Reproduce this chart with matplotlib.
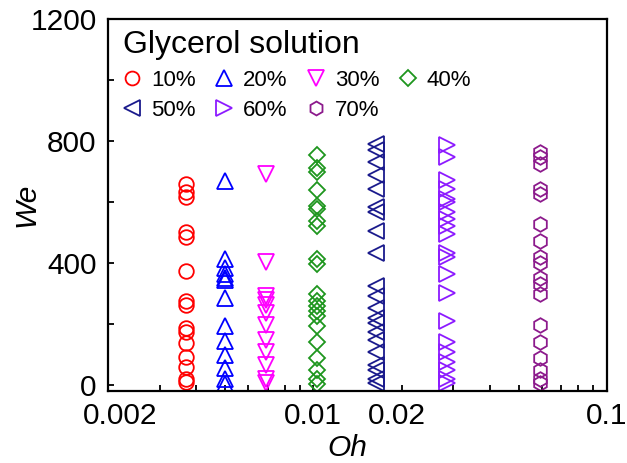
import numpy as np
from matplotlib import pyplot as plt
from matplotlib import transforms
from matplotlib.ticker import FixedLocator, NullFormatter

plt.rcParams['font.family'] = ['Liberation Sans', 'DejaVu Sans']

# Oh value of each glycerol solution
labels = ['10%', '20%', '30%', '40%', '50%', '60%', '70%']
oh = [0.0037, 0.0050, 0.0069, 0.0103, 0.0163, 0.0286, 0.0592]

we_10 = [660, 632, 616, 500, 484, 374, 274, 263, 186, 175, 137, 93, 60, 21, 10]
we_20 = [669, 414, 385, 363, 352, 343, 285, 194, 144, 98, 54, 19, 4]
we_30 = [691, 404, 291, 280, 263, 236, 197, 148, 109, 65, 21, 5]
we_40 = [754, 710, 699, 638, 588, 577, 539, 522, 412, 396, 297, 274, 258,
         241, 225, 192, 142, 87, 49, 21, 4]
we_50 = [790, 770, 732, 688, 644, 583, 566, 506, 434, 324, 291, 252, 219,
         203, 175, 148, 109, 65, 49, 21, 5]
we_60 = [787, 748, 671, 644, 610, 599, 566, 544, 522, 495, 434, 418, 363,
         302, 208, 142, 109, 76, 49, 21, 5]
we_70 = [765, 748, 726, 644, 627, 528, 473, 418, 401, 352, 330, 297, 197,
         142, 87, 49, 21, 5]
we_all = [we_10, we_20, we_30, we_40, we_50, we_60, we_70]

colors = ['#FF0000', '#0000FF', '#FF00FF', '#1E961E', '#1A1A8C', '#8C1AFF', '#8C1A8C']
markers = ['o', '^', 'v', 'D', '<', '>', 'h']
sizes = [10.5, 12, 12, 8.5, 12, 12, 10.5]

fig = plt.figure(figsize=(6.27, 4.63), dpi=100)
ax = fig.add_axes([0.172, 0.1555, 0.796, 0.8035])

handles = []
for i in range(len(labels)):
    h, = ax.plot([oh[i]] * len(we_all[i]), we_all[i], linestyle='none',
                 marker=markers[i], ms=sizes[i], mfc='none', mec=colors[i],
                 mew=1.3, label=labels[i])
    handles.append(h)

ax.set_xscale('log')
ax.set_xlim(0.002, 0.1)
ax.set_ylim(-20, 1200)

# x ticks: labelled decades plus all minor log ticks
xmajor = [0.002, 0.01, 0.02, 0.1]
ax.xaxis.set_major_locator(FixedLocator(xmajor))
ax.set_xticklabels(['0.002', '0.01', '0.02', '0.1'])
minor = [k * 10.0 ** e for e in (-3, -2) for k in range(1, 10)]
minor = [m for m in minor if 0.002 < m < 0.1 and m not in xmajor]
ax.xaxis.set_minor_locator(FixedLocator(minor))
ax.xaxis.set_minor_formatter(NullFormatter())

ax.set_yticks([0, 400, 800, 1200])
ax.set_yticks([200, 600, 1000], minor=True)

ax.tick_params(which='both', direction='in', width=1.3, labelsize=21.5, pad=8)
ax.tick_params(which='major', length=4)
ax.tick_params(which='minor', length=4)
for s in ax.spines.values():
    s.set_linewidth(1.6)

# nudge a couple of x labels as in the original
offsets = {'0.002': 12, '0.02': -5}
for lab in ax.get_xticklabels():
    dx = offsets.get(lab.get_text(), 0)
    if dx:
        lab.set_transform(lab.get_transform() +
                          transforms.ScaledTranslation(dx / 100, 0, fig.dpi_scale_trans))

ax.set_xlabel('Oh', fontsize=21.5, style='italic')
ax.xaxis.set_label_coords(0.479, -0.115)
ax.set_ylabel('We', fontsize=21.5, style='italic')
ax.yaxis.set_label_coords(-0.135, 0.5)

order = [0, 4, 1, 5, 2, 6, 3]
leg = ax.legend([handles[k] for k in order], [labels[k] for k in order],
                ncol=4, loc='upper left', bbox_to_anchor=(0.009, 0.997),
                frameon=False, fontsize=16, title='Glycerol solution',
                title_fontsize=23, alignment='left', markerscale=0.95,
                handlelength=0.8, handletextpad=0.45, columnspacing=0.88,
                labelspacing=0.4, borderaxespad=0.1)
leg.get_title().set_position((0, 1))

plt.savefig('out.png', dpi=100)
